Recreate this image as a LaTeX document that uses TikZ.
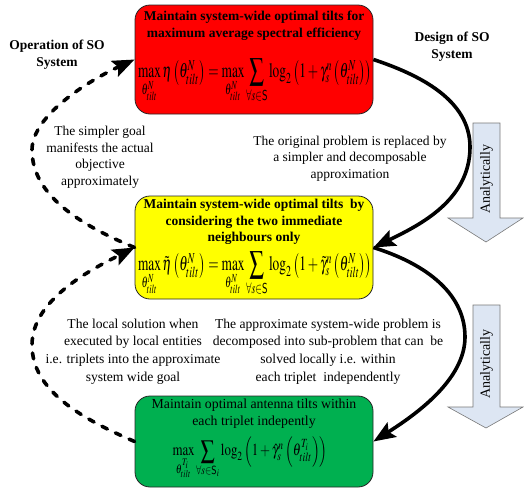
\documentclass[tikz,border=0pt]{standalone}
\usepackage{mathptmx}
\usepackage{fontspec}
\setmainfont{Liberation Serif}
\usepackage{graphicx}
\usetikzlibrary{arrows.meta}
\definecolor{boxred}{RGB}{255,0,0}
\definecolor{boxyellow}{RGB}{255,255,0}
\definecolor{boxgreen}{RGB}{0,176,80}
\definecolor{anafill}{RGB}{221,230,243}
\definecolor{anadraw}{RGB}{120,120,120}
\newcommand{\midsum}{\mathop{\vcenter{\hbox{\scalebox{1.55}{$\textstyle\sum$}}}}}
\tikzset{
  stagebox/.style={draw=black!85, line width=0.8pt, rounded corners=15pt, minimum width=238pt, inner sep=0pt},
  titletext/.style={align=center, font=\fontsize{13.5}{16.7}\selectfont\bfseries, inner sep=0pt},
  plaintext/.style={align=center, font=\fontsize{13.5}{16.5}\selectfont, inner sep=0pt},
  formula/.style={inner sep=0pt},
  solidarrow/.style={line width=3.6pt, -{Stealth[length=22pt,width=17pt,inset=4pt]}},
  dasharrow/.style={line width=3.6pt, line cap=round, dash pattern=on 6pt off 9pt, -{Stealth[length=22pt,width=17pt,inset=4pt]}},
  anabox/.style={draw=anadraw, fill=anafill, line width=0.6pt},
  anatext/.style={rotate=90, font=\fontsize{14}{16}\selectfont, inner sep=0pt}
}
\begin{document}
\begin{tikzpicture}[x=1pt,y=-1pt]
\useasboundingbox (0,0) rectangle (524,491);

% boxes
\node[stagebox, fill=boxred, minimum height=109pt] (top) at (254,59.5) {};
\node[stagebox, fill=boxyellow, minimum height=103pt] (mid) at (254,247.5) {};
\node[stagebox, fill=boxgreen, minimum height=91pt] (bot) at (254,441.5) {};

% titles
\node[titletext] (toptitle) at (254,25.5) {Maintain system-wide optimal tilts for\\maximum average spectral efficiency};
\node[titletext] (midtitle) at (254,222) {Maintain system-wide optimal tilts\ \ by\\considering the two immediate\\neighbours only};
\node[plaintext, font=\fontsize{13.8}{16.5}\selectfont] (bottitle) at (254,413.5) {Maintain optimal antenna tilts within\\each triplet indepently};

% formulas
\node[formula] (topf) at (255,81) {\resizebox*{234pt}{44pt}{$\textstyle \max\limits_{\theta_{tilt}^{N}}\eta\left(\theta_{tilt}^{N}\right)=\max\limits_{\theta_{tilt}^{N}}\midsum\limits_{\forall s\in \mathsf{S}}\log_2\left(1+\gamma_s^{n}\left(\theta_{tilt}^{N}\right)\right)$}};
\node[formula] (midf) at (255,274) {\resizebox*{234pt}{44pt}{$\textstyle \max\limits_{\theta_{tilt}^{N}}\tilde{\eta}\left(\theta_{tilt}^{N}\right)=\max\limits_{\theta_{tilt}^{N}}\midsum\limits_{\forall s\in \mathsf{S}}\log_2\left(1+\tilde{\gamma}_s^{n}\left(\theta_{tilt}^{N}\right)\right)$}};
\node[formula] (botf) at (250,458) {\resizebox*{155pt}{43pt}{$\textstyle \max\limits_{\theta_{tilt}^{T_i}}\midsum\limits_{\forall s\in \mathsf{S}_i}\log_2\left(1+\hat{\gamma}_s^{n}\left(\theta_{tilt}^{T_i}\right)\right)$}};

% side labels
\node[titletext] (oplabel) at (57,55) {Operation of SO\\System};
\node[titletext] (deslabel) at (452,46.5) {Design of SO\\System};

\node[plaintext] (simpler) at (100,157.5) {The simpler goal\\manifests the actual\\objective\\approximately};
\node[plaintext] (original) at (350,158.5) {The original problem is replaced by\\a simpler and decomposable\\approximation};
\node[plaintext, font=\fontsize{13.6}{17.7}\selectfont] (local) at (133,351.5) {The local solution when\\executed by local entities\\i.e. triplets into the approximate\\system wide goal};
\node[plaintext, font=\fontsize{13.6}{17.7}\selectfont] (approx) at (328,351.5) {The approximate system-wide problem is\\decomposed into sub-problem that can\ \ be\\solved locally i.e. within\\each triplet\ \ independently};

% analytically arrows
\draw[anabox] (473,123) -- (500,123) -- (500,218) -- (523,218) -- (486,242) -- (448,218) -- (473,218) -- cycle;
\node[anatext] (ana1) at (486.5,179) {Analytically};
\draw[anabox] (473,305) -- (500,305) -- (500,407) -- (523,407) -- (486,428) -- (448,407) -- (473,407) -- cycle;
\node[anatext] (ana2) at (486.5,364) {Analytically};

% solid connectors
\coordinate (r1) at (470,147);
\coordinate (r2) at (465,337);
\draw[solidarrow] (top.east) .. controls (420,75) and (470,100) .. (r1) .. controls (470,200) and (420,225) .. (mid.east);
\draw[solidarrow] (mid.east) .. controls (420,262) and (465,290) .. (r2) .. controls (465,380) and (415,415) .. (bot.east);

% dashed connectors
\coordinate (l1) at (32,150);
\coordinate (l2) at (32,345);
\draw[dasharrow] (mid.west) .. controls (80,225) and (32,195) .. (l1) .. controls (32,115) and (90,80) .. (top.west);
\draw[dasharrow] (bot.west) .. controls (80,418) and (32,390) .. (l2) .. controls (32,300) and (90,270) .. (mid.west);
\end{tikzpicture}
\end{document}
